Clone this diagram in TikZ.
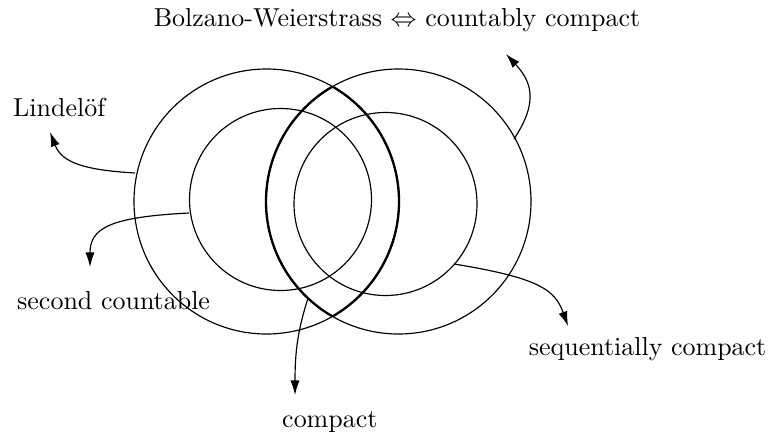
\documentclass[tikz,border=0pt]{standalone}
\usetikzlibrary{arrows.meta}
\begin{document}
\begin{tikzpicture}[x=0.385pt,y=-0.385pt,
  ring/.style={line width=0.45pt},
  lensline/.style={line width=0.9pt},
  pointer/.style={line width=0.45pt,-{Latex[length=5.6pt,width=3.5pt]}},
  label/.style={anchor=base west,inner sep=0pt,font=\fontsize{10}{12}\selectfont}]
\useasboundingbox (0,0) rectangle (771,436);
% centres
\coordinate (cL) at (266.5,201.5);
\coordinate (cR) at (398.5,201.5);
\coordinate (cl) at (280.5,199.5);
\coordinate (cr) at (385.5,204);
% circles
\draw[ring] (cL) circle[radius=132.5];
\draw[ring] (cR) circle[radius=132.5];
\draw[ring] (cl) circle[radius=91];
\draw[ring] (cr) circle[radius=91.5];
% lens (intersection of the big circles)
\begin{scope}
  \clip (cR) circle[radius=132.5];
  \draw[lensline] (cL) circle[radius=132.5];
\end{scope}
\begin{scope}
  \clip (cL) circle[radius=132.5];
  \draw[lensline] (cR) circle[radius=132.5];
\end{scope}
% labels
\node[label] (tBW) at (153.3,26) {Bolzano-Weierstrass $\Leftrightarrow$ countably compact};
\node[label] (tLin) at (12.7,116.7) {Lindel\"of};
\node[label] (tSec) at (16.7,309.3) {second countable};
\node[label] (tSeq) at (528.3,355) {sequentially compact};
\node[label] (tCom) at (281.7,427) {compact};
% connector end points
\coordinate (sLin) at (135,173);
\coordinate (eLin) at (50,132);
\coordinate (sSec) at (189,213);
\coordinate (eSec) at (90,267);
\coordinate (sBW) at (514,139);
\coordinate (eBW) at (506,54);
\coordinate (sSeq) at (454,264);
\coordinate (eSeq) at (568,326);
\coordinate (sCom) at (308,298);
\coordinate (eCom) at (295,395);
% connectors
\draw[pointer] (sLin) .. controls (85,170) and (62,163) .. (eLin);
\draw[pointer] (sSec) .. controls (110,217) and (90,228) .. (eSec);
\draw[pointer] (sBW) .. controls (540,100) and (530,80) .. (eBW);
\draw[pointer] (sSeq) .. controls (540,278) and (555,290) .. (eSeq);
\draw[pointer] (sCom) .. controls (298,330) and (295,350) .. (eCom);
\end{tikzpicture}
\end{document}
